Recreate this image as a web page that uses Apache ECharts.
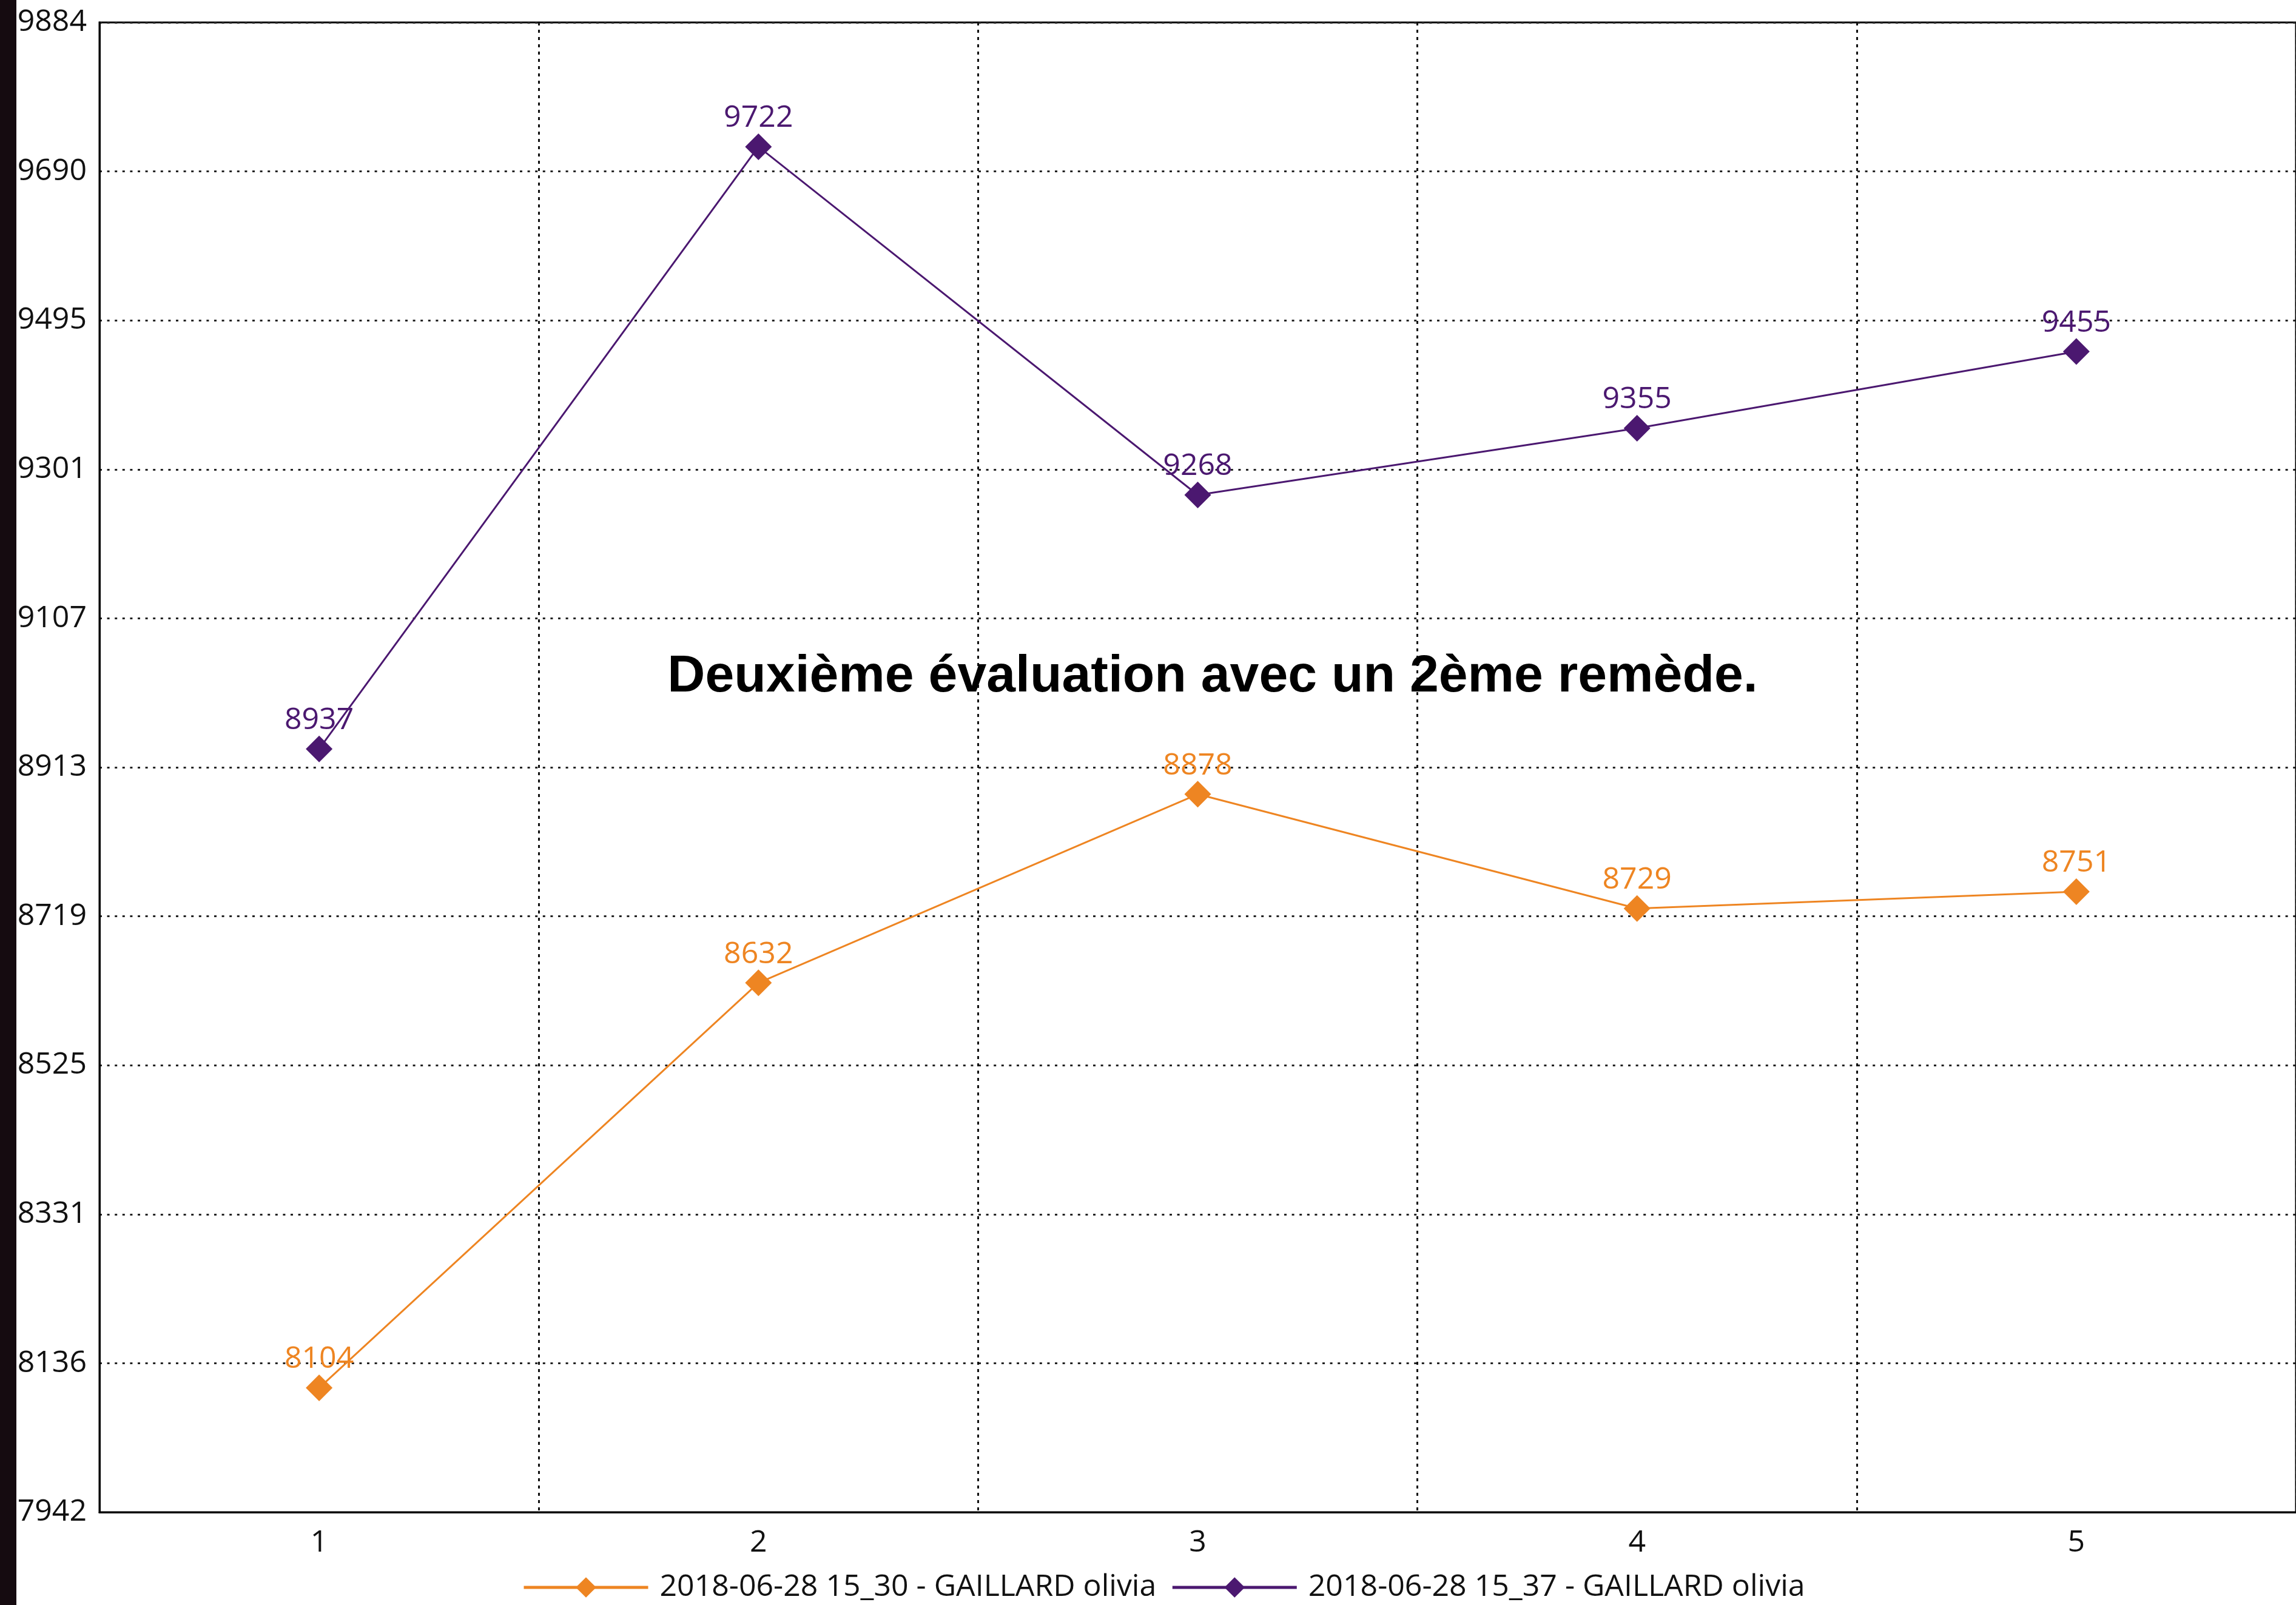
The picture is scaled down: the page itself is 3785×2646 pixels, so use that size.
<!DOCTYPE html>
<html>
<head>
<meta charset="utf-8">
<title>Deuxième évaluation</title>
<script src="https://cdn.jsdelivr.net/npm/echarts@6/dist/echarts.min.js"></script>
<style>
    html, body { margin: 0; padding: 0; background: #fff; }
    #chart_con { width: 3785px; height: 2646px; }
</style>
</head>
<body>
<div id="chart_con"></div>
<script>
// données
var categories = ['1', '2', '3', '4', '5'];
var serie1Name = '2018-06-28 15_30 - GAILLARD olivia';
var serie1 = [8104, 8632, 8878, 8729, 8751];
var serie2Name = '2018-06-28 15_37 - GAILLARD olivia';
var serie2 = [8937, 9722, 9268, 9355, 9455];
var yTickLabels = ['7942', '8136', '8331', '8525', '8719', '8913', '9107', '9301', '9495', '9690', '9884'];
var yMin = 7942;
var yMax = 9884;

// l'axe y est compté depuis yMin (0 = 7942) pour que les graduations tombent juste
var yStep = (yMax - yMin) / (yTickLabels.length - 1);
function shift(arr) {
    return arr.map(function (v) { return v - yMin; });
}

var font = '"Open Sans", "Noto Sans", sans-serif';
var orange = '#ee8522';
var violet = '#4b1870';

var chart = echarts.init(document.getElementById('chart_con'));

var option = {
    animation: false,
    backgroundColor: '#fff',
    grid: {
        left: 164,
        right: -2,
        top: 37,
        bottom: 153,
        show: true,
        borderColor: '#000',
        borderWidth: 3
    },
    legend: {
        left: 856,
        top: 2587,
        itemWidth: 205,
        itemHeight: 42,
        itemGap: 24,
        lineStyle: { width: 5 },
        textStyle: {
            fontFamily: font,
            fontSize: 50,
            color: '#111',
            padding: [0, 0, 0, 14]
        },
        data: [serie1Name, serie2Name]
    },
    xAxis: {
        type: 'category',
        data: categories,
        boundaryGap: true,
        axisLine: { lineStyle: { color: '#000', width: 3 } },
        axisTick: { show: false },
        axisLabel: {
            color: '#111',
            fontFamily: font,
            fontSize: 50,
            margin: 26
        },
        splitLine: {
            show: true,
            lineStyle: { color: '#111', width: 3, type: [5, 7] }
        }
    },
    yAxis: {
        type: 'value',
        min: 0,
        max: yMax - yMin,
        interval: yStep,
        axisLine: { show: true, lineStyle: { color: '#000', width: 3 } },
        axisTick: { show: false },
        axisLabel: {
            color: '#111',
            fontFamily: font,
            fontSize: 50,
            margin: 21,
            formatter: function (v, i) {
                return yTickLabels[i];
            }
        },
        splitLine: {
            show: true,
            lineStyle: { color: '#222', width: 3, type: [4, 8.6] }
        }
    },
    series: [
        {
            name: serie1Name,
            type: 'line',
            data: shift(serie1),
            symbol: 'diamond',
            symbolSize: 44,
            color: orange,
            lineStyle: { width: 3, color: orange },
            label: {
                show: true,
                position: 'top',
                distance: 0,
                color: orange,
                fontFamily: font,
                fontSize: 50,
                formatter: function (p) { return serie1[p.dataIndex]; }
            }
        },
        {
            name: serie2Name,
            type: 'line',
            data: shift(serie2),
            symbol: 'diamond',
            symbolSize: 44,
            color: violet,
            lineStyle: { width: 3, color: violet },
            label: {
                show: true,
                position: 'top',
                distance: 0,
                color: violet,
                fontFamily: font,
                fontSize: 50,
                formatter: function (p) { return serie2[p.dataIndex]; }
            }
        }
    ],
    graphic: [
        {
            // bande sombre à gauche de la capture
            type: 'rect',
            left: 0,
            top: 0,
            shape: { width: 27, height: 2646 },
            style: { fill: '#150b10' },
            silent: true
        },
        {
            type: 'text',
            x: 1999,
            y: 1116,
            style: {
                text: 'Deuxième évaluation avec un 2ème remède.',
                fill: '#000',
                font: 'bold 86px "Liberation Sans", Arial, sans-serif',
                textAlign: 'center',
                textVerticalAlign: 'middle'
            },
            z: 10
        }
    ]
};

chart.setOption(option);

window.addEventListener('resize', function () {
    chart.resize();
});
</script>
</body>
</html>
